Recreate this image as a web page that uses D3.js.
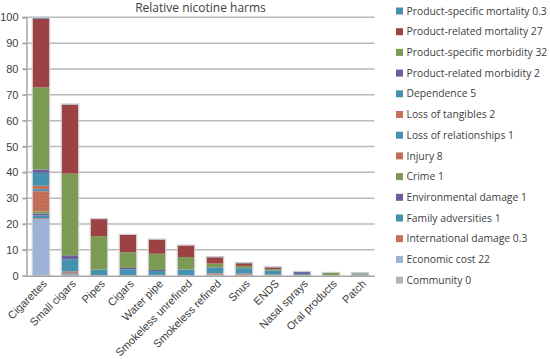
<!DOCTYPE html>
<html>
<head>
<meta charset="utf-8">
<script src="https://cdn.jsdelivr.net/npm/d3@7"></script>
<style>
  html, body { margin: 0; padding: 0; background: #fff; }
  svg { display: block; font-family: "Open Sans", "Noto Sans", sans-serif; }
</style>
</head>
<body>
<svg id="chart" width="550" height="359"></svg>
<script>
// ---- data ----
const title = "Relative nicotine harms";
const categories = ["Cigarettes", "Small cigars", "Pipes", "Cigars", "Water pipe",
  "Smokeless unrefined", "Smokeless refined", "Snus", "ENDS", "Nasal sprays",
  "Oral products", "Patch"];
// series listed bottom of stack first
const seriesNames = ["Community 0", "Economic cost 22", "International damage 0.3",
  "Family adversities 1", "Environmental damage 1", "Crime 1", "Injury 8",
  "Loss of relationships 1", "Loss of tangibles 2", "Dependence 5",
  "Product-related morbidity 2", "Product-specific morbidity 32",
  "Product-related mortality 27", "Product-specific mortality 0.3"];
const community           = [0,    0,    0,    0,    0,    0,    0,    0,    0,    0,    0,    0];
const economicCost        = [22,   0,    0,    0,    0,    0,    0,    0,    0,    0,    0,    0];
const internationalDamage = [0.3,  0,    0,    0,    0,    0,    0,    0,    0,    0,    0,    0];
const familyAdversities   = [1,    0.4,  0,    0,    0.1,  0,    0,    0,    0,    0,    0,    0];
const environmentalDamage = [0.8,  0.1,  0,    0,    0,    0,    0,    0,    0,    0,    0,    0];
const crime               = [0.8,  0.1,  0,    0,    0,    0,    0,    0,    0,    0,    0,    0];
const injury              = [7.8,  0.2,  0,    0,    0,    0,    0.2,  0.2,  0.2,  0,    0,    0];
const lossOfRelationships = [0.8,  0.3,  0.1,  0.1,  0.1,  0.1,  0.2,  0.2,  0.1,  0.1,  0,    0];
const lossOfTangibles     = [1.3,  0.6,  0.1,  0.1,  0.1,  0.1,  0.5,  0.4,  0.2,  0.2,  0,    0];
const dependence          = [5,    4.7,  2.2,  2.3,  1.5,  2.2,  2.3,  2.0,  1.5,  0.3,  0.2,  0.2];
const productRelMorbidity = [1.3,  1.5,  0,    0.5,  0.4,  0,    0.1,  0.2,  0.1,  0.8,  0,    0.2];
const productSpecMorbidity= [31.8, 31.6, 12.9, 6.1,  6.3,  4.8,  1.4,  0.8,  0.5,  0,    0.9,  0.4];
const productRelMortality = [26.6, 26.6, 6.6,  6.7,  5.5,  4.5,  2.4,  1.0,  0.6,  0,    0,    0];
const productSpecMortality= [0.3,  0.2,  0,    0,    0,    0,    0.1,  0.1,  0.1,  0.1,  0,    0.2];
const seriesValues = [community, economicCost, internationalDamage, familyAdversities,
  environmentalDamage, crime, injury, lossOfRelationships, lossOfTangibles, dependence,
  productRelMorbidity, productSpecMorbidity, productRelMortality, productSpecMortality];
const seriesColors = ["#b4b4b4", "#9db3d6", "#c4705a", "#4592b0", "#6a5f9c", "#7b9a53",
  "url(#injuryPat)", "#4592b0", "#c4705a", "#4592b0", "#6a5f9c", "#7b9a53", "#9c4245", "#4592b0"];
const yTicks = [0, 10, 20, 30, 40, 50, 60, 70, 80, 90, 100];

// ---- build ----
const svg = d3.select("#chart");
const defs = svg.append("defs");
const pat = defs.append("pattern").attr("id", "injuryPat")
  .attr("patternUnits", "userSpaceOnUse").attr("width", 3).attr("height", 3);
pat.append("rect").attr("width", 3).attr("height", 3).attr("fill", "#c4705a");
pat.append("rect").attr("x", 1).attr("y", 1).attr("width", 1).attr("height", 1).attr("fill", "#b35e4a");

const mLeft = 26.5, mRight = 374.5, mTop = 17.3, mBottom = 275.7;
const x = d3.scaleBand().domain(categories).range([mLeft, mRight]).paddingInner(0.43).paddingOuter(0.215);
const y = d3.scaleLinear().domain([0, 100]).range([mBottom, mTop]);

const table = categories.map((c, i) => {
  const o = { cat: c };
  seriesNames.forEach((s, j) => { o[s] = seriesValues[j][i]; });
  return o;
});
const stack = d3.stack().keys(seriesNames)(table);

// gridlines
svg.append("g").selectAll("line").data(yTicks.filter(d => d > 0)).join("line")
  .attr("x1", mLeft - 4).attr("x2", mRight)
  .attr("y1", d => y(d)).attr("y2", d => y(d))
  .attr("stroke", "#b9b9b9").attr("stroke-width", 1.5);

// y axis
const yAxis = svg.append("g").attr("transform", `translate(${mLeft},0)`)
  .call(d3.axisLeft(y).tickValues(yTicks).tickSize(4).tickPadding(4));
yAxis.select(".domain").attr("stroke", "#a6a6a6").attr("stroke-width", 1.5);
yAxis.selectAll(".tick line").attr("stroke", "#a6a6a6").attr("stroke-width", 1.5);
yAxis.selectAll("text").attr("fill", "#404040").style("font-size", "11px");

// bars
svg.append("g").selectAll("g").data(stack).join("g")
  .attr("fill", (d, i) => seriesColors[i])
  .selectAll("rect").data(d => d.filter(p => p[1] - p[0] > 0)).join("rect")
  .attr("x", d => x(d.data.cat))
  .attr("width", x.bandwidth())
  .attr("y", d => y(d[1]))
  .attr("height", d => y(d[0]) - y(d[1]));

// bar outline
const totals = categories.map((c, i) => ({ cat: c, total: d3.sum(seriesValues, s => s[i]) }));
svg.append("g").selectAll("rect").data(totals).join("rect")
  .attr("x", d => x(d.cat) - 0.5).attr("width", x.bandwidth() + 1)
  .attr("y", d => y(d.total) - 0.5).attr("height", d => y(0) - y(d.total) + 0.5)
  .attr("fill", "none").attr("stroke", "#c8c8c8").attr("stroke-width", 1);

// x axis
const xAxis = svg.append("g").attr("transform", `translate(0,${mBottom})`)
  .call(d3.axisBottom(x).tickSize(0).tickPadding(0));
xAxis.select(".domain").attr("stroke", "#a6a6a6").attr("stroke-width", 1.5);
xAxis.selectAll("text")
  .attr("fill", "#404040").style("font-size", "11px")
  .attr("text-anchor", "end")
  .attr("transform", "translate(4,6) rotate(-45)")
  .attr("dy", "0.35em").attr("y", 0).attr("x", 0);

// title
svg.append("text").attr("x", (mLeft + mRight) / 2).attr("y", 12)
  .attr("text-anchor", "middle").attr("fill", "#404040").style("font-size", "12px")
  .text(title);

// legend (top of stack first)
const legendItems = seriesNames.map((s, i) => ({ name: s, color: seriesColors[i] })).reverse();
const lg = svg.append("g").selectAll("g").data(legendItems).join("g")
  .attr("transform", (d, i) => `translate(396,${11 + i * 20.7})`);
lg.append("rect").attr("x", 0).attr("y", -3.5).attr("width", 7).attr("height", 7)
  .attr("fill", d => d.color);
const lt = lg.append("text").attr("x", 10.5).attr("y", 0).attr("dy", "0.35em")
  .attr("fill", "#404040").style("font-size", "12px").text(d => d.name);
// fit legend font so the longest entry spans the legend column as in the reference
const maxW = d3.max(lt.nodes(), n => n.getComputedTextLength());
const legendFont = Math.min(12, 12 * 141 / maxW);
lt.style("font-size", legendFont + "px");
</script>
</body>
</html>
